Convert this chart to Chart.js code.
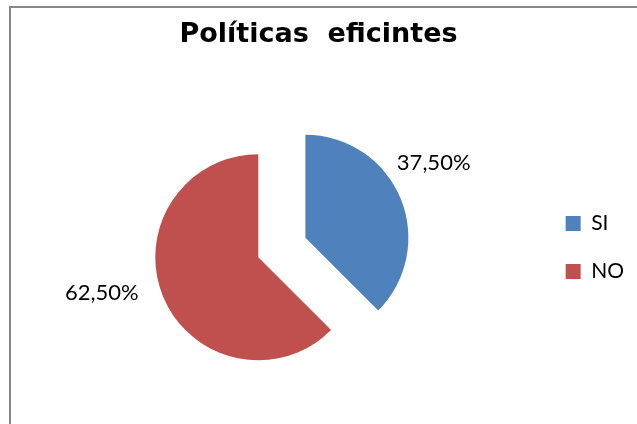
<!DOCTYPE html>
<html>
<head>
<meta charset="utf-8">
<script src="https://cdn.jsdelivr.net/npm/chart.js@4/dist/chart.umd.min.js"></script>
<style>
  html, body { margin: 0; padding: 0; background: #ffffff; overflow: hidden; }
  #frame {
    position: absolute; left: 9px; top: 6px; width: 800px; height: 600px;
    border-left: 2px solid #878787; border-top: 2px solid #878787;
  }
  #wrap { position: absolute; left: 0; top: 0; width: 637px; height: 424px; }
</style>
</head>
<body>
<div id="frame"></div>
<div id="wrap"><canvas id="chart" width="637" height="424"></canvas></div>
<script>
// Chart content
const chartTitle = 'Políticas  eficintes';
const categories = ['SI', 'NO'];
const percentages = [37.5, 62.5];
const sliceColors = ['#4F81BD', '#C0504D'];

// Styling
const EXPLODE_PX = 25.5;              // distance each slice is pulled out from the centre
const PIE_RADIUS = 103;
const labelAngleNudge = [-7.6, 9.8];  // degrees, relative to the slice's mid angle
const labelDistance = [148.3, 160.4]; // px from the slice's (exploded) apex

function formatPct(v) {
  return v.toFixed(2).replace('.', ',') + '%';
}

// Pulls every slice outwards along its bisector by the same distance,
// keeping the radius unchanged.
const explodeSlices = {
  id: 'explodeSlices',
  afterDatasetsUpdate(chart) {
    const meta = chart.getDatasetMeta(0);
    meta.data.forEach((arc) => {
      const mid = (arc.startAngle + arc.endAngle) / 2;
      arc.x += Math.cos(mid) * EXPLODE_PX;
      arc.y += Math.sin(mid) * EXPLODE_PX;
    });
  }
};

// Centre the title across the whole canvas rather than the padded area.
const fullWidthTitle = {
  id: 'fullWidthTitle',
  afterLayout(chart) {
    const t = chart.titleBlock;
    if (t) {
      t.left = 0;
      t.right = chart.width;
      t.width = chart.width;
    }
  }
};

// Percentage labels placed outside each slice.
const outsideLabels = {
  id: 'outsideLabels',
  afterDatasetsDraw(chart) {
    const meta = chart.getDatasetMeta(0);
    const ctx = chart.ctx;
    ctx.save();
    ctx.font = '22px Lato';
    ctx.fillStyle = '#000000';
    ctx.textAlign = 'center';
    ctx.textBaseline = 'middle';
    meta.data.forEach((arc, i) => {
      const p = arc.getProps(['x', 'y', 'startAngle', 'endAngle'], true);
      const mid = (p.startAngle + p.endAngle) / 2 + labelAngleNudge[i] * Math.PI / 180;
      const x = p.x + Math.cos(mid) * labelDistance[i];
      const y = p.y + Math.sin(mid) * labelDistance[i];
      ctx.fillText(formatPct(chart.data.datasets[0].data[i]), x, y);
    });
    ctx.restore();
  }
};

new Chart(document.getElementById('chart'), {
  type: 'pie',
  data: {
    labels: categories,
    datasets: [{
      data: percentages,
      backgroundColor: sliceColors,
      borderWidth: 0,
      hoverOffset: 0
    }]
  },
  options: {
    responsive: false,
    animation: false,
    radius: PIE_RADIUS,
    layout: { padding: { left: 25, right: 3, top: 0, bottom: 0 } },
    plugins: {
      title: {
        display: true,
        text: chartTitle,
        color: '#000000',
        font: { family: 'DejaVu Sans', size: 27, weight: 'bold', lineHeight: 1.2 },
        padding: { top: 19, bottom: 19.6 }
      },
      legend: {
        display: true,
        position: 'right',
        fullSize: false,
        align: 'center',
        labels: {
          boxWidth: 15,
          boxHeight: 15,
          padding: 27,
          color: '#000000',
          font: { family: 'Lato', size: 21 }
        }
      },
      tooltip: { enabled: false }
    }
  },
  plugins: [explodeSlices, fullWidthTitle, outsideLabels]
});
</script>
</body>
</html>
